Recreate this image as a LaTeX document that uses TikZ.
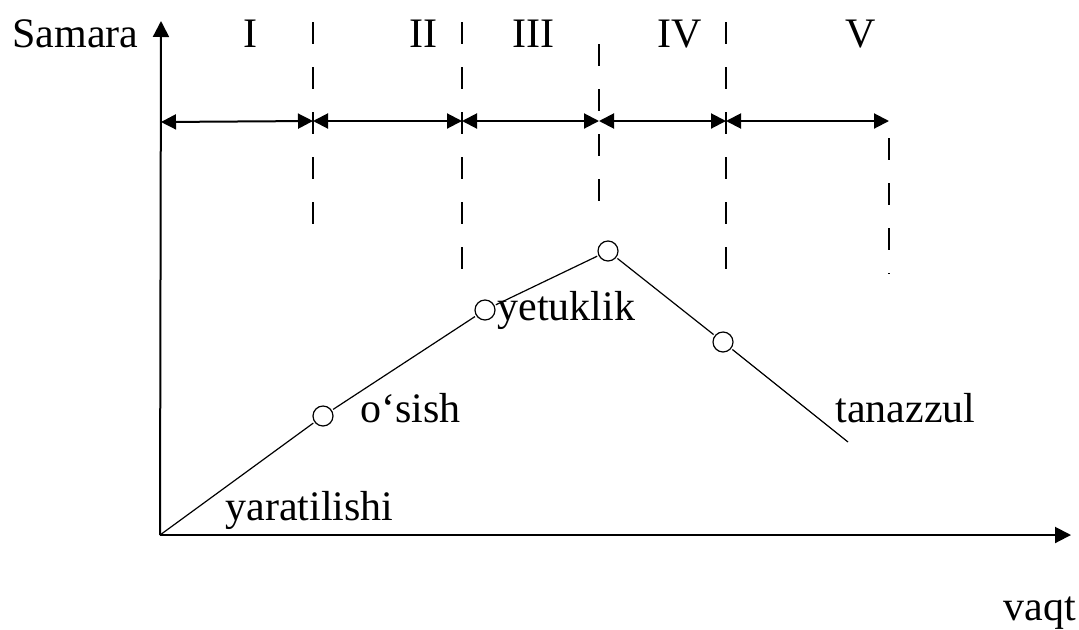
\documentclass[tikz,border=0pt]{standalone}
\usepackage{fontspec}
\setmainfont{Liberation Serif}
\usepackage{tikz}
\usetikzlibrary{positioning,arrows.meta}

\begin{document}
\begin{tikzpicture}[
    x=0.5pt, y=0.5pt,
    axisline/.style={line width=1pt, -{Triangle[length=8pt,width=8pt]}},
    spanline/.style={line width=1pt, {Triangle[length=7.5pt,width=7.5pt]}-{Triangle[length=7.5pt,width=7.5pt]}},
    divline/.style={line width=0.6pt, dash pattern=on 11pt off 11.5pt},
    stageline/.style={line width=0.6pt},
    stagept/.style={draw, circle, line width=0.6pt, inner sep=0pt,
                    minimum size=10pt, outer sep=1pt},
    lbl/.style={font=\fontsize{21}{25}\selectfont, inner sep=0pt, anchor=base west},
    roman/.style={font=\fontsize{21}{25}\selectfont, inner sep=0pt, anchor=base},
]
\useasboundingbox (0,0) rectangle (1079,629);

% axes
\coordinate (o) at (160,94);
\coordinate (ytip) at (161,608);
\coordinate (xtip) at (1071,94);
\draw[axisline] (o) -- (ytip);
\draw[axisline] (o) -- (xtip);
\node[lbl] (samara) at (12,582) {Samara};
\node[lbl] (vaqt) at (1003,9) {vaqt};

% stage borders
\coordinate (t1) at (313,607);  \coordinate (b1) at (313,387);
\coordinate (t2) at (462,607);  \coordinate (b2) at (462,355);
\coordinate (t3) at (599,585);  \coordinate (b3) at (599,418);
\coordinate (t4) at (726,607);  \coordinate (b4) at (726,355);
\coordinate (t5) at (889,491);  \coordinate (b5) at (889,355);
\draw[divline] (t1) -- (b1);
\draw[divline] (t2) -- (b2);
\draw[divline] (t3) -- (b3);
\draw[divline] (t4) -- (b4);
\draw[divline] (t5) -- (b5);

% stage spans
\coordinate (s0) at (161,507);
\coordinate (s1) at (313,508);
\coordinate (s2) at (462,508);
\coordinate (s3) at (599,508);
\coordinate (s4) at (726,508);
\coordinate (s5) at (889,508);
\draw[spanline] (s0) -- (s1);
\draw[spanline] (s1) -- (s2);
\draw[spanline] (s2) -- (s3);
\draw[spanline] (s3) -- (s4);
\draw[spanline] (s4) -- (s5);

\node[roman] (r1) at (250,582) {I};
\node[roman] (r2) at (423,582) {II};
\node[roman] (r3) at (533,582) {III};
\node[roman] (r4) at (680,582) {IV};
\node[roman] (r5) at (861,582) {V};

% life cycle curve
\node[stagept] (p1) at (323,213) {};
\node[stagept] (p2) at (485,319) {};
\node[stagept] (p3) at (608,378) {};
\node[stagept] (p4) at (723,287) {};
\coordinate (pend) at (848,187);
\draw[stageline] (o) -- (p1);
\draw[stageline] (p1) -- (p2);
\draw[stageline] (p2) -- (p3);
\draw[stageline] (p3) -- (p4);
\draw[stageline] (p4) -- (pend);

\node[lbl] (yarat) at (225,109) {yaratilishi};
\node[lbl] (osish) at (360,207) {o‘sish};
\node[lbl] (yetuk) at (497,309) {yetuklik};
\node[lbl] (tanaz) at (835,207) {tanazzul};
\end{tikzpicture}
\end{document}
